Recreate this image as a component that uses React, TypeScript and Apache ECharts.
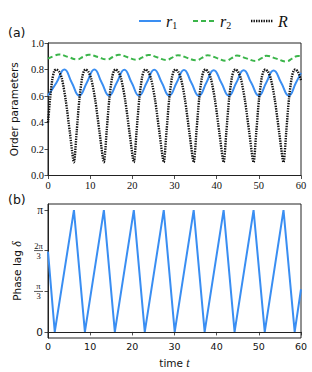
import React, { useEffect, useRef } from 'react';
import * as echarts from 'echarts';

const PI = Math.PI;

// tick definitions
const timeTicks = [0, 10, 20, 30, 40, 50, 60];
const orderTicks = [0, 0.2, 0.4, 0.6, 0.8, 1.0];
const phaseTickValues = [0, PI / 3, (2 * PI) / 3, PI];
const phaseTickLabels = ['0', 'π/3', '2π/3', 'π'];
const legendNames = ['r1', 'r2', 'R'];

// r1 (blue solid)
const r1Points: [number, number][] = [
  [0, 0.603], [2.0, 0.70], [3.9, 0.80], [5.65, 0.70], [7.4, 0.603], [9.2, 0.70], [11.0, 0.80],
  [12.75, 0.70], [14.5, 0.603], [16.3, 0.70], [18.1, 0.799], [19.85, 0.70], [21.6, 0.603],
  [23.4, 0.70], [25.2, 0.798], [27.0, 0.70], [28.75, 0.603], [30.5, 0.70], [32.25, 0.797],
  [34.0, 0.70], [35.8, 0.602], [37.55, 0.70], [39.3, 0.795], [41.1, 0.70], [42.9, 0.602],
  [44.65, 0.70], [46.4, 0.794], [48.2, 0.70], [50.0, 0.602], [51.75, 0.70], [53.5, 0.793],
  [55.3, 0.70], [57.1, 0.602], [58.8, 0.70], [60, 0.775],
];

// r2 (green dashed)
const r2Points: [number, number][] = [
  [0, 0.882], [1.3, 0.90], [2.6, 0.913], [4.75, 0.895], [6.9, 0.877], [8.3, 0.895], [9.7, 0.912],
  [11.85, 0.894], [14.0, 0.876], [15.4, 0.894], [16.85, 0.911], [18.9, 0.892], [21.0, 0.874],
  [22.4, 0.892], [23.85, 0.910], [26.0, 0.891], [28.1, 0.872], [29.45, 0.89], [30.8, 0.908],
  [33.0, 0.888], [35.2, 0.869], [36.5, 0.888], [37.85, 0.907], [40.1, 0.886], [42.3, 0.866],
  [43.55, 0.886], [44.8, 0.905], [47.05, 0.884], [49.3, 0.864], [50.55, 0.884], [51.8, 0.903],
  [54.15, 0.882], [56.5, 0.861], [57.9, 0.882], [59.3, 0.902], [60, 0.900],
];

// R (black dotted)
const RPoints: [number, number][] = [
  [0, 0.40], [0.5, 0.58], [1.0, 0.72], [1.5, 0.79], [2.0, 0.80], [2.6, 0.785], [3.3, 0.73], [4.2, 0.57], [5.2, 0.32],
  [6.15, 0.10], [6.8, 0.33], [7.45, 0.58], [8.1, 0.74], [8.55, 0.79], [8.95, 0.80], [9.55, 0.785], [10.25, 0.73], [11.2, 0.57], [12.25, 0.32],
  [13.25, 0.10], [13.9, 0.33], [14.55, 0.58], [15.2, 0.74], [15.65, 0.79], [16.05, 0.80], [16.65, 0.785], [17.35, 0.73], [18.3, 0.57], [19.35, 0.32],
  [20.35, 0.10], [21.0, 0.33], [21.65, 0.58], [22.3, 0.74], [22.75, 0.79], [23.15, 0.80], [23.75, 0.785], [24.45, 0.73], [25.4, 0.57], [26.45, 0.32],
  [27.45, 0.10], [28.1, 0.33], [28.75, 0.58], [29.4, 0.74], [29.85, 0.79], [30.25, 0.80], [30.85, 0.785], [31.55, 0.73], [32.5, 0.57], [33.55, 0.32],
  [34.55, 0.10], [35.2, 0.33], [35.85, 0.58], [36.5, 0.74], [36.95, 0.79], [37.35, 0.80], [37.95, 0.785], [38.65, 0.73], [39.6, 0.57], [40.65, 0.32],
  [41.65, 0.10], [42.3, 0.33], [42.95, 0.58], [43.6, 0.74], [44.05, 0.79], [44.45, 0.80], [45.05, 0.785], [45.75, 0.73], [46.7, 0.57], [47.75, 0.32],
  [48.75, 0.10], [49.4, 0.33], [50.05, 0.58], [50.7, 0.74], [51.15, 0.79], [51.55, 0.80], [52.15, 0.785], [52.85, 0.73], [53.8, 0.57], [54.85, 0.32],
  [55.85, 0.10], [56.5, 0.33], [57.15, 0.58], [57.8, 0.74], [58.25, 0.79], [58.65, 0.80], [59.25, 0.785], [60, 0.72],
];

// phase lag delta (blue)
const deltaPoints: [number, number][] = [
  [0, 2.07], [1.6, 0], [6.15, 3.1416], [8.75, 0], [13.25, 3.1416], [15.85, 0], [20.35, 3.1416],
  [22.95, 0], [27.45, 3.1416], [30.05, 0], [34.55, 3.1416], [37.15, 0], [41.65, 3.1416],
  [44.25, 0], [48.75, 3.1416], [51.4, 0], [55.85, 3.1416], [58.5, 0], [60, 1.1],
];

const BLUE = '#3a8ef2';
const GREEN = '#3bb54a';
const BLACK = '#111111';
const AXIS = '#222222';
const SERIF = 'Liberation Serif';
const SANS = 'DejaVu Sans';

export default function App() {
  const ref = useRef<HTMLDivElement>(null);
  useEffect(() => {
    if (!ref.current) return;
    const chart = echarts.init(ref.current, undefined, { renderer: 'svg' });
    const phaseLabel = (v: number) => {
      let idx = 0;
      let best = Infinity;
      phaseTickValues.forEach((t, i) => {
        if (Math.abs(t - v) < best) { best = Math.abs(t - v); idx = i; }
      });
      const s = phaseTickLabels[idx];
      if (s === '0') return '{z|0}';
      if (s === 'π') return '{p|π}';
      const [num, den] = s.split('/');
      return `{n|${num}}\n{b|}\n{d|${den}}`;
    };
    const axisLineStyle = { show: true, lineStyle: { color: AXIS, width: 1 } };
    const tickStyle = { show: true, length: 3.5, lineStyle: { color: AXIS, width: 0.8 } };

    // manual legend (line sample + math-style label)
    const legendColors = [BLUE, GREEN, BLACK];
    const legendDash: (number[] | null)[] = [null, [5, 3], [1.4, 1.1]];
    const legendWidths = [2, 2, 2.6];
    const legendLineX = [139, 193, 251];
    const legendRich = {
      i: { fontFamily: SERIF, fontStyle: 'italic', fontSize: 16, fill: '#111' },
      s: { fontFamily: SERIF, fontSize: 10, fill: '#111', padding: [8, 0, 0, 0] },
    };
    const legendText: Record<string, string> = { r1: '{i|r}{s|1}', r2: '{i|r}{s|2}', R: '{i|R}' };
    const legendGraphics: any[] = [];
    legendNames.forEach((n, i) => {
      legendGraphics.push({
        type: 'line',
        shape: { x1: legendLineX[i], y1: 21, x2: legendLineX[i] + 22, y2: 21 },
        style: { stroke: legendColors[i], lineWidth: legendWidths[i], lineDash: legendDash[i] || undefined },
      });
      legendGraphics.push({
        type: 'text',
        x: legendLineX[i] + 27,
        y: 21,
        style: { text: legendText[n], rich: legendRich, verticalAlign: 'middle', align: 'left' },
      });
    });

    chart.setOption({
      animation: false,
      backgroundColor: '#ffffff',
      grid: [
        { left: 48, top: 43, width: 253, height: 132.5, show: true, borderColor: AXIS, borderWidth: 1 },
        { left: 48, top: 204, width: 253, height: 134, show: true, borderColor: AXIS, borderWidth: 1 },
      ],
      xAxis: [
        {
          type: 'value', gridIndex: 0, min: timeTicks[0], max: timeTicks[timeTicks.length - 1], interval: 10,
          splitLine: { show: false }, axisLine: axisLineStyle, axisTick: tickStyle,
          axisLabel: { fontFamily: SERIF, fontSize: 10.5, color: '#111', margin: 4 },
        },
        {
          type: 'value', gridIndex: 1, min: timeTicks[0], max: timeTicks[timeTicks.length - 1], interval: 10,
          splitLine: { show: false }, axisLine: axisLineStyle, axisTick: tickStyle,
          axisLabel: { fontFamily: SANS, fontSize: 9.5, color: '#111', margin: 3 },
          name: '{a|time }{b|t}', nameLocation: 'middle', nameGap: 19,
          nameTextStyle: {
            rich: {
              a: { fontFamily: SANS, fontSize: 10.5, color: '#111' },
              b: { fontFamily: SERIF, fontStyle: 'italic', fontSize: 12, color: '#111' },
            },
          },
        },
      ],
      yAxis: [
        {
          type: 'value', gridIndex: 0, min: orderTicks[0], max: orderTicks[orderTicks.length - 1], interval: 0.2,
          splitLine: { show: false }, axisLine: axisLineStyle, axisTick: tickStyle,
          axisLabel: { fontFamily: SERIF, fontSize: 10.5, color: '#111', margin: 4, formatter: (v: number) => v.toFixed(1) },
          name: 'Order parameters', nameLocation: 'middle', nameGap: 23,
          nameTextStyle: { fontFamily: SANS, fontSize: 10.5, color: '#111' },
        },
        {
          type: 'value', gridIndex: 1, min: -0.05 * PI, max: 1.05 * PI,
          splitLine: { show: false }, axisLine: axisLineStyle,
          axisTick: { ...tickStyle, customValues: phaseTickValues },
          axisLabel: {
            customValues: phaseTickValues, margin: 5, color: '#111', formatter: phaseLabel,
            rich: {
              z: { fontFamily: SANS, fontSize: 10.5, color: '#111' },
              p: { fontFamily: SERIF, fontSize: 11.5, color: '#111' },
              n: { fontFamily: SERIF, fontSize: 8.5, color: '#111', align: 'center', lineHeight: 8 },
              b: { width: 9, height: 0.7, lineHeight: 2, backgroundColor: '#111', align: 'center' },
              d: { fontFamily: SERIF, fontSize: 8.5, color: '#111', align: 'center', lineHeight: 8 },
            },
          },
          name: '{a|Phase lag }{b|δ}', nameLocation: 'middle', nameGap: 18,
          nameTextStyle: {
            rich: {
              a: { fontFamily: SANS, fontSize: 10.5, color: '#111' },
              b: { fontFamily: SERIF, fontStyle: 'italic', fontSize: 12, color: '#111' },
            },
          },
        },
      ],
      graphic: [
        { type: 'text', left: 8, top: 26, style: { text: '(a)', fontFamily: SANS, fontSize: 12.5, fill: '#111' } },
        { type: 'text', left: 8, top: 193, style: { text: '(b)', fontFamily: SANS, fontSize: 12.5, fill: '#111' } },
        ...legendGraphics,
      ],
      series: [
        {
          name: 'r1', type: 'line', xAxisIndex: 0, yAxisIndex: 0, data: r1Points, smooth: 0.5,
          symbol: 'none', showSymbol: false, color: BLUE, lineStyle: { color: BLUE, width: 2 }, z: 2,
        },
        {
          name: 'r2', type: 'line', xAxisIndex: 0, yAxisIndex: 0, data: r2Points, smooth: 0.5,
          symbol: 'none', showSymbol: false, color: GREEN, lineStyle: { color: GREEN, width: 2, type: [5, 3] }, z: 3,
        },
        {
          name: 'R', type: 'line', xAxisIndex: 0, yAxisIndex: 0, data: RPoints, smooth: 0.25,
          symbol: 'none', showSymbol: false, color: BLACK, lineStyle: { color: BLACK, width: 2.4, type: [1.4, 1.1], cap: 'butt' }, z: 4,
        },
        {
          name: 'delta', type: 'line', xAxisIndex: 1, yAxisIndex: 1, data: deltaPoints, smooth: false,
          symbol: 'none', showSymbol: false, color: BLUE, lineStyle: { color: BLUE, width: 2 },
        },
      ],
    });
    return () => chart.dispose();
  }, []);
  return <div ref={ref} style={{ position: 'fixed', left: 0, top: 0, width: 312, height: 372 }} />;
}
